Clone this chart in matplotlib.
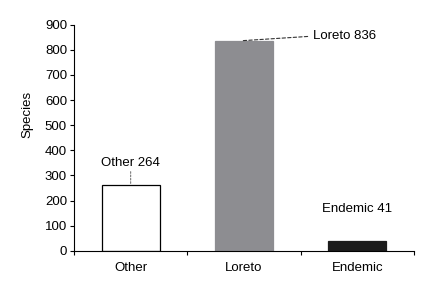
import matplotlib
matplotlib.use("Agg")
import matplotlib.pyplot as plt

categories = ["Other", "Loreto", "Endemic"]
values = [264, 836, 41]
labels = ["Other 264", "Loreto 836", "Endemic 41"]
yticks = [0, 100, 200, 300, 400, 500, 600, 700, 800, 900]

plt.rcParams['font.family'] = ['Liberation Sans', 'DejaVu Sans']
plt.rcParams['font.size'] = 9.5

fig = plt.figure(figsize=(4.30, 2.82), dpi=100)
ax = fig.add_axes([0.172, 0.110, 0.791, 0.803])

x = list(range(len(categories)))
fills = ["white", "#8d8d91", "#1c1c1c"]
edges = ["black", "#8d8d91", "#1c1c1c"]
ax.bar(x, values, width=0.51, color=fills, edgecolor=edges, linewidth=0.9)

ax.set_xlim(-0.5, 2.5)
ax.set_ylim(0, 900)
ax.set_yticks(yticks)
ax.set_xticks(x)
ax.set_xticklabels(categories)
ax.set_xticks([-0.5, 0.5, 1.5, 2.5], minor=True)
ax.tick_params(axis='x', which='major', length=0, pad=8)
ax.tick_params(axis='x', which='minor', length=3, direction='out', width=0.8)
ax.tick_params(axis='y', length=3, direction='out', width=0.8, pad=2)
for s in ['top', 'right']:
    ax.spines[s].set_visible(False)
for s in ['left', 'bottom']:
    ax.spines[s].set_linewidth(0.8)
ax.set_ylabel("Species", fontsize=9.5)
ax.yaxis.set_label_coords(-0.12, 0.604)

# Annotations
ax.annotate(labels[0], xy=(0, values[0]), xytext=(0, 350), ha='center', va='center',
            arrowprops=dict(arrowstyle='-', linestyle=(0, (1.5, 1.5)), color='#777777',
                        lw=0.8, shrinkA=0, shrinkB=0,
                        relpos=(0.5, 0.0)))
ax.annotate(labels[1], xy=(0.99, values[1]), xytext=(1.61, 854), ha='left', va='center',
            arrowprops=dict(arrowstyle='-', linestyle=(0, (3, 2)), color='#333333',
                        lw=0.8, shrinkA=2, shrinkB=0, relpos=(0.0, 0.5)))
ax.text(2, 167, labels[2], ha='center', va='center')

fig.savefig("out.png", dpi=100)
